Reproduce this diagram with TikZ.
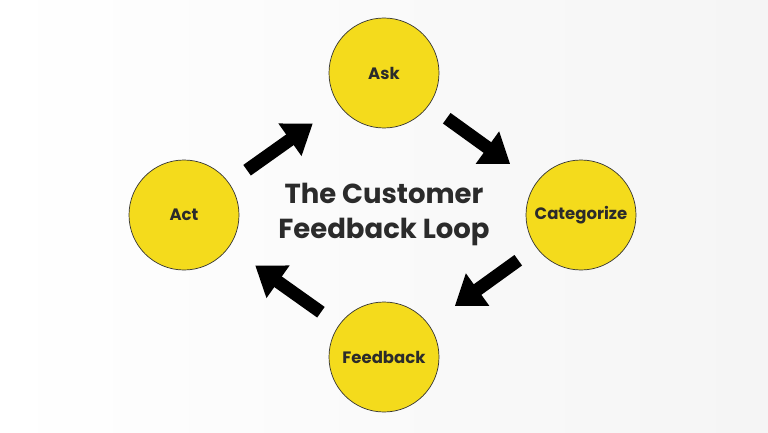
\documentclass[tikz,border=0pt]{standalone}
\usepackage{fontspec}
\setmainfont{Poppins}
\usetikzlibrary{arrows.meta}
\definecolor{yel}{HTML}{F4DB1C}
\definecolor{txt}{HTML}{2B2B2B}
\begin{document}
\begin{tikzpicture}[x=1pt,y=1pt,
  stage/.style={circle,draw=black!80,line width=0.7pt,fill=yel,minimum size=110pt,inner sep=0pt,font=\fontsize{16.5}{18}\selectfont\bfseries,text=txt},
  blk/.style={line width=13pt,-{Triangle[width=38pt,length=28pt]},shorten <=22pt,shorten >=32pt}]
\shade[left color=white,right color=black!4] (0,0) rectangle (768,432);
\useasboundingbox (0,0) rectangle (768,432);
\node[stage] (ask) at (384,359) {Ask};
\node[stage] (cat) at (581,217) {Categorize};
\node[stage] (fb) at (384,75) {Feedback};
\node[stage] (act) at (184,217) {Act};
\node[font=\fontsize{27.5}{35}\selectfont\bfseries,text=txt,align=center] (title) at (384,218) {The Customer\\Feedback Loop};
\draw[blk] (act) -- (ask);
\draw[blk] (ask) -- (cat);
\draw[blk] (cat) -- (fb);
\draw[blk] (fb) -- (act);
\end{tikzpicture}
\end{document}
